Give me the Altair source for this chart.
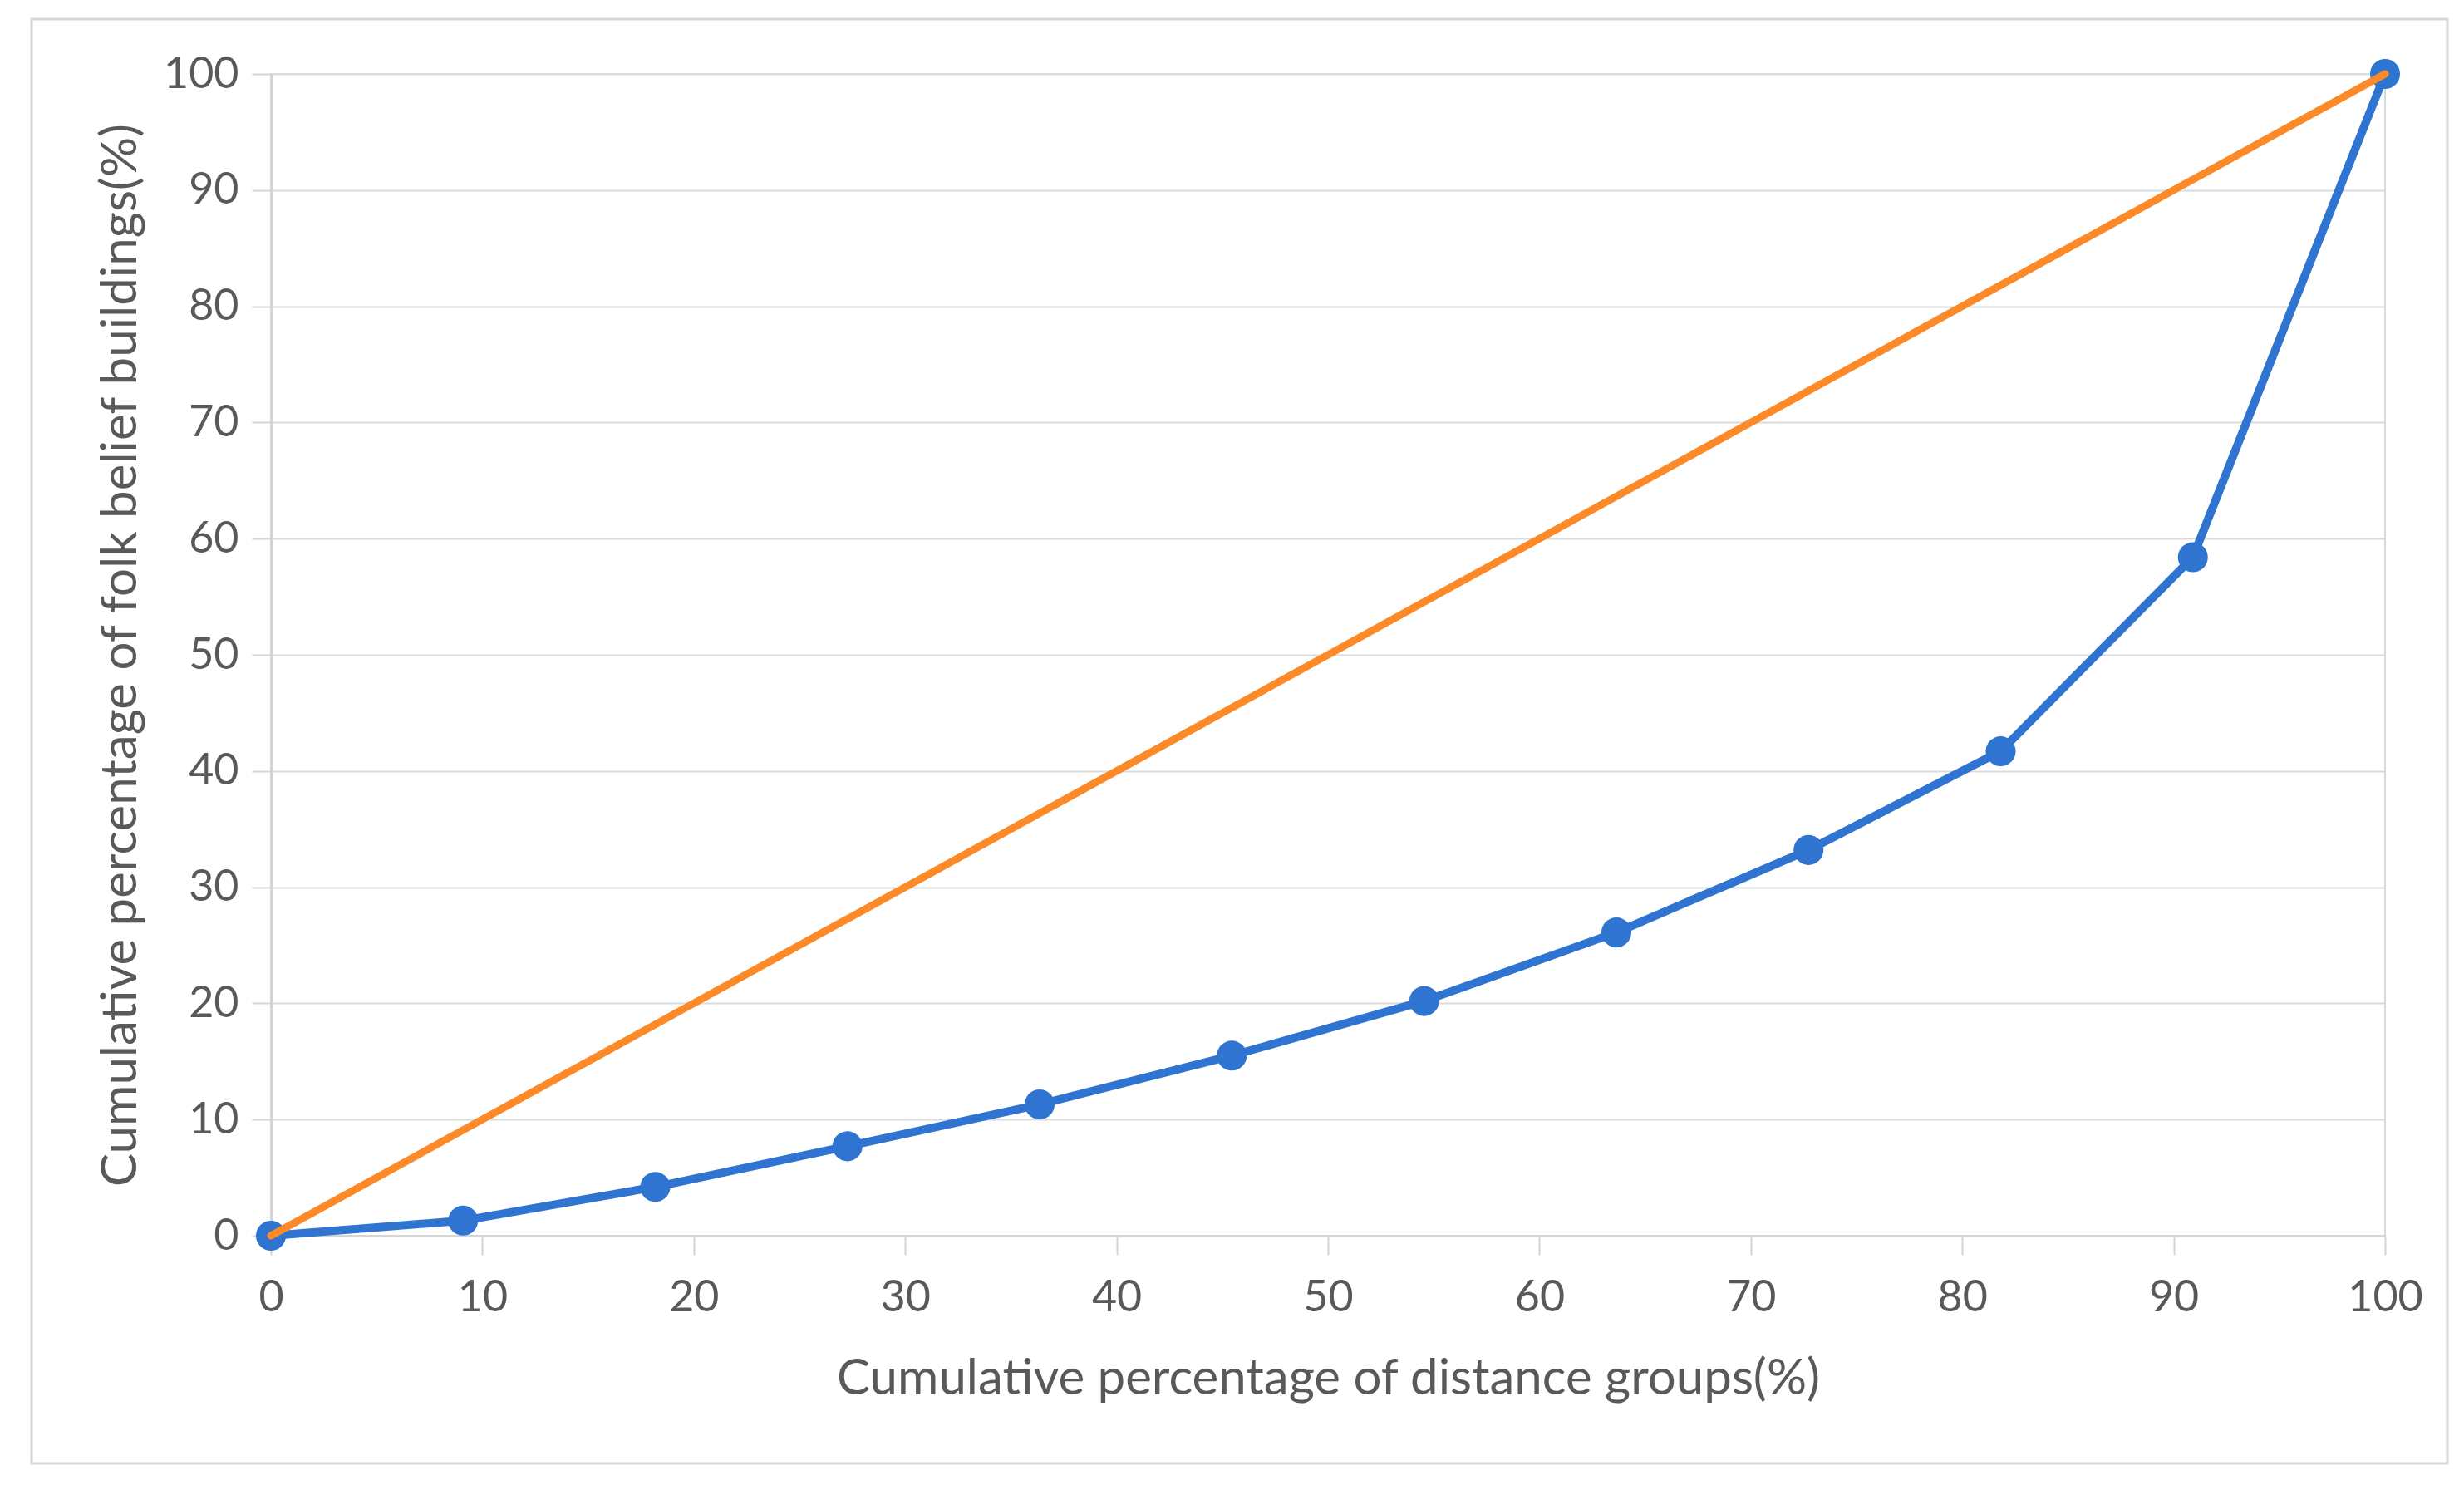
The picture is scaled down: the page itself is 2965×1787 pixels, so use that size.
import altair as alt
import pandas as pd

# Cumulative percentage of distance groups (%)
x_vals = [0, 9.09, 18.18, 27.27, 36.36, 45.45, 54.55, 63.64, 72.73, 81.82, 90.91, 100]
# Cumulative percentage of folk belief buildings (%)
lorenz_y = [0, 1.3, 4.2, 7.7, 11.3, 15.5, 20.2, 26.1, 33.2, 41.7, 58.4, 100]
# Line of equality
eq_x = [0, 100]
eq_y = [0, 100]
ticks = [0, 10, 20, 30, 40, 50, 60, 70, 80, 90, 100]

x_title = "Cumulative percentage of distance groups(%)"
y_title = "Cumulative percentage of folk belief buildings(%)"

FONT = "Lato"
TEXT = "#595959"
BLUE = "#2E74D0"
ORANGE = "#FC8A28"

W, H = 2544, 1398

lorenz = pd.DataFrame({"x": x_vals, "y": lorenz_y})
equality = pd.DataFrame({"x": eq_x, "y": eq_y})

xs = alt.Scale(domain=[0, 100], nice=False)
ys = alt.Scale(domain=[0, 100], nice=False)

x_axis = alt.Axis(
    values=ticks, title=x_title, grid=False,
    tickSize=23, tickColor="#d4d4d4", tickWidth=2,
    domainColor="#d4d4d4", domainWidth=2,
    labelFont=FONT, labelFontSize=52, labelColor=TEXT,
    labelBaseline="alphabetic", labelPadding=67, labelFlush=False,
    titleFont=FONT, titleFontSize=60, titleFontWeight="normal", titleColor=TEXT,
    titleBaseline="alphabetic", titleY=190, titleX=W / 2, titleAlign="center",
)
y_axis = alt.Axis(
    values=ticks, title=y_title, grid=True,
    gridColor="#dadcdc", gridWidth=2,
    tickSize=23, tickColor="#d4d4d4", tickWidth=2,
    domainColor="#d4d4d4", domainWidth=3,
    labelFont=FONT, labelFontSize=52, labelColor=TEXT,
    labelPadding=16, labelFlush=False,
    titleFont=FONT, titleFontSize=60, titleFontWeight="normal", titleColor=TEXT,
    titleAngle=270, titleBaseline="alphabetic", titleX=-163, titleY=H / 2,
    titleAlign="center",
)

border = alt.Chart(pd.DataFrame({"k": [0]})).mark_rect(
    fillOpacity=0, stroke="#d6d6d6", strokeWidth=3
).encode(
    x=alt.value(-288), x2=alt.value(2619), y=alt.value(-66), y2=alt.value(1672)
)

base = alt.Chart(lorenz).encode(
    x=alt.X("x:Q", scale=xs, axis=x_axis),
    y=alt.Y("y:Q", scale=ys, axis=y_axis),
)
blue_line = base.mark_line(color=BLUE, strokeWidth=10, strokeJoin="round", strokeCap="round")
blue_pts = base.mark_circle(color=BLUE, size=1300, opacity=1)

eq_line = alt.Chart(equality).mark_line(
    color=ORANGE, strokeWidth=9, strokeCap="round"
).encode(
    x=alt.X("x:Q", scale=xs),
    y=alt.Y("y:Q", scale=ys),
)

chart = alt.layer(border, blue_line, blue_pts, eq_line).properties(
    width=W, height=H,
    autosize=alt.AutoSizeParams(type="none"),
    padding={"left": 318, "top": 81, "right": 87, "bottom": 292},
    background="white",
).configure_view(stroke="#d9d9d9", strokeWidth=2)

chart.save("out.html", embed_options={"renderer": "svg", "actions": False})
